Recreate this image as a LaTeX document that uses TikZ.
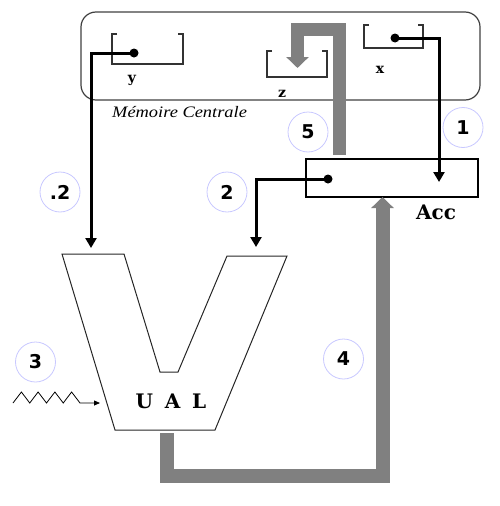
\documentclass[tikz,border=0pt]{standalone}
\usepackage{fontspec}
\setmainfont{Liberation Serif}
\newfontfamily\numfont{DejaVu Sans}
\newfontfamily\slabfont[BoldFont={DejaVu Serif Bold}]{DejaVu Serif}
\newfontfamily\ualfont[BoldFont={DejaVu Serif Bold},WordSpace=1.3]{DejaVu Serif}
\usetikzlibrary{arrows.meta}
\definecolor{barc}{HTML}{808080}
\definecolor{ringc}{HTML}{C8C8FF}
\begin{document}
\begin{tikzpicture}[x=1pt,y=-1pt,
  wire/.style={line width=3pt, -{Triangle[width=11pt,length=10pt]}},
  dotnode/.style={circle, fill=black, inner sep=0pt, minimum size=9pt},
  reg/.style={line width=1.3pt, draw=black!80},
  numc/.style={circle, draw=ringc, line width=0.8pt, minimum size=40pt, inner sep=0pt, font=\numfont\bfseries\fontsize{19}{19}\selectfont},
  greybar/.style={draw=barc, line width=13pt, line join=miter, -{Triangle[width=22pt,length=11pt]}},
  reglab/.style={font=\slabfont\bfseries\fontsize{14}{14}\selectfont, inner sep=0pt},
  biglab/.style={font=\slabfont\bfseries\fontsize{20}{20}\selectfont, inner sep=0pt}]
\useasboundingbox (0,0) rectangle (500,506);
% memory
\draw[line width=1.2pt, draw=black!75, rounded corners=15pt] (81,12) rectangle (480,100);
\node[anchor=west, inner sep=0pt] (memlab) at (112,112) {\scalebox{1.15}[1]{\itshape\fontsize{16}{16}\selectfont Mémoire Centrale}};
% registers
\draw[reg] (117,34) -- (112,34) -- (112,64) -- (183,64) -- (183,34) -- (178,34);
\draw[reg] (272,51) -- (267,51) -- (267,77) -- (327,77) -- (327,51) -- (322,51);
\draw[reg] (369,25) -- (364,25) -- (364,48) -- (423,48) -- (423,25) -- (418,25);
\node[reglab] (ylab) at (132,80) {y};
\node[reglab] (zlab) at (282,94) {z};
\node[reglab] (xlab) at (380,70) {x};
% accumulator
\node[draw, line width=1.3pt, minimum width=172pt, minimum height=38pt, inner sep=0pt] (acc) at (392,178) {};
\node[biglab] (acclab) at (436,212) {Acc};
% UAL
\draw[line width=1pt, draw=black!85] (62,254) -- (124,254) -- (160,372) -- (178,372) -- (227,256) -- (287,256) -- (215,430) -- (115,430) -- cycle;
\node[inner sep=0pt, font=\ualfont\bfseries\fontsize{20}{20}\selectfont] (ual) at (171,401) {U A L};
\coordinate (ualbot) at (166.5,433);
\coordinate (ualin1) at (91,248);
\coordinate (ualin2) at (256,247);
\coordinate (ualin3) at (100,403);
% grey arrows
\coordinate (g5start) at (339,155);
\coordinate (zin) at (297.5,68);
\coordinate (accbot) at (382.5,197);
\draw[greybar] (g5start) -- (339,29.5) -- (297.5,29.5) -- (zin);
\draw[greybar, line width=14pt] (ualbot) -- (166.5,475.5) -- (382.5,475.5) -- (accbot);
% black wires
\node[dotnode] (ydot) at (134,53) {};
\node[dotnode] (xdot) at (395,38) {};
\node[dotnode] (adot) at (328,179) {};
\coordinate (accin) at (439,182);
\draw[wire] (ydot.center) -| (ualin1);
\draw[wire] (xdot.center) -| (accin);
\draw[wire] (adot.center) -| (ualin2);
% zigzag
\draw[line width=0.8pt, -{Triangle[width=5pt,length=6pt]}] (13,403) -- (21.4,392) -- (29.75,403) -- (38.1,392) -- (46.5,403) -- (54.9,392) -- (63.25,403) -- (71.6,392) -- (80,403) -- (ualin3);
% step numbers
\node[numc] (n1) at (463,127.5) {1};
\node[numc] (n5) at (308,132) {5};
\node[numc] (n2a) at (60,192) {.2};
\node[numc] (n2b) at (227,192) {2};
\node[numc] (n3) at (35.5,362) {3};
\node[numc] (n4) at (343.5,359) {4};
\end{tikzpicture}
\end{document}
